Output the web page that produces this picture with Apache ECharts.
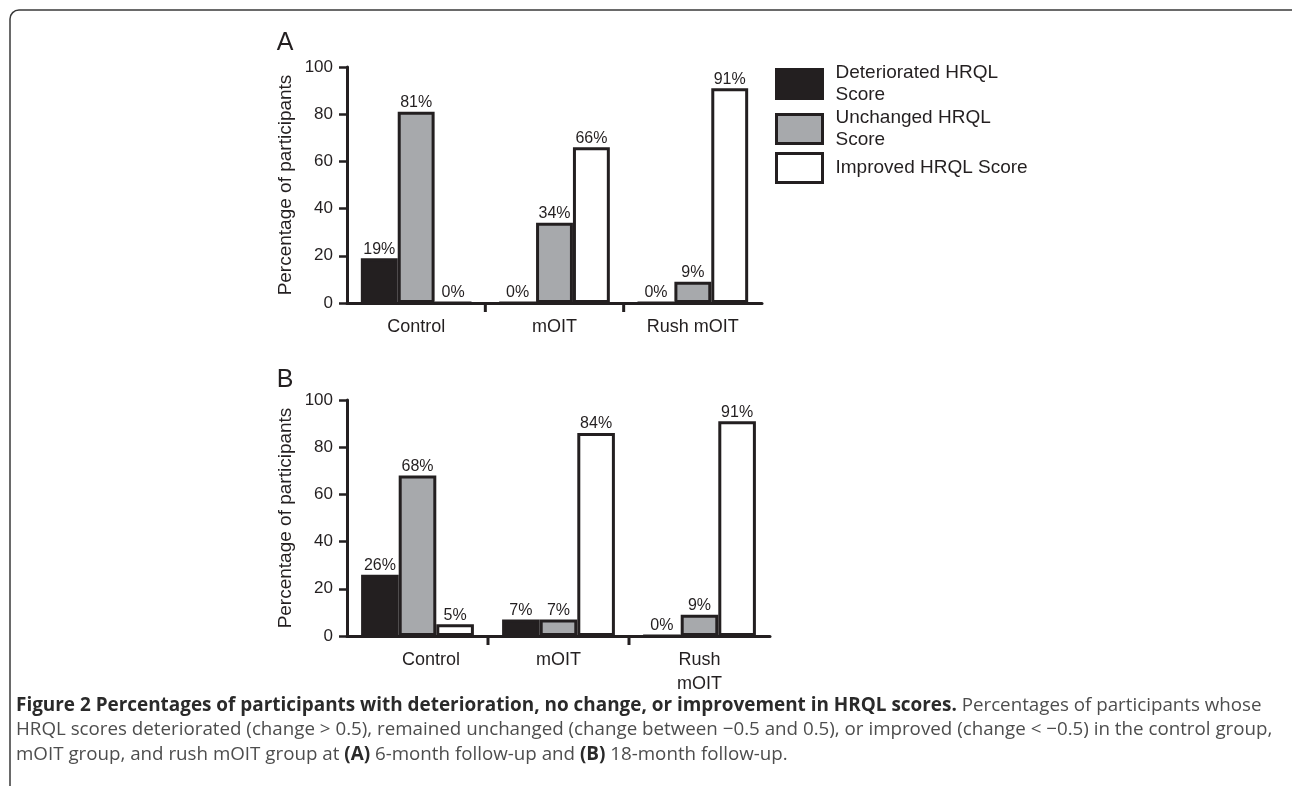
<!DOCTYPE html>
<html><head><meta charset="utf-8">
<script src="https://cdn.jsdelivr.net/npm/echarts@6/dist/echarts.min.js"></script>
<style>html,body{margin:0;padding:0;background:#fff}#c{width:1292px;height:786px}</style>
</head><body><div id="c"></div>
<script>
// ---- data ----
const categoriesA = ['Control', 'mOIT', 'Rush mOIT'];
const categoriesB = ['Control', 'mOIT', 'Rush\nmOIT'];
const seriesNames = ['Deteriorated HRQL Score', 'Unchanged HRQL Score', 'Improved HRQL Score'];
const legendText = ['Deteriorated HRQL\nScore', 'Unchanged HRQL\nScore', 'Improved HRQL Score'];
const deterioratedA = [19, 0, 0];
const unchangedA = [81, 34, 9];
const improvedA = [0, 66, 91];
const deterioratedB = [26, 7, 0];
const unchangedB = [68, 7, 9];
const improvedB = [5, 86, 91];           // bar heights as drawn
const improvedBPrinted = [5, 84, 91];    // percentages as printed above bars
const yTicks = [0, 20, 40, 60, 80, 100];

const INK = '#231f20';
const colors = ['#231f20', '#a7a9ac', '#ffffff'];
const FONT = '"Liberation Sans", Arial, Helvetica, sans-serif';

const chart = echarts.init(document.getElementById('c'), null, {renderer: 'canvas'});

function xAxis(grid, cats, rich) {
  return {
    type: 'category', gridIndex: grid, data: cats,
    axisLine: {lineStyle: {color: INK, width: 3}},
    axisTick: {show: false},
    axisLabel: {
      color: INK, fontSize: 18, fontFamily: FONT, margin: 12, lineHeight: 24,
      formatter: rich ? function (v) { return v === 'Control' ? '{s|' + v + '}' : v; } : null,
      rich: rich ? {s: {color: INK, fontSize: 18, fontFamily: FONT, lineHeight: 24, padding: [0, 0, 0, 27]}} : undefined
    }
  };
}
function yAxis(grid) {
  return {
    type: 'value', gridIndex: grid,
    min: yTicks[0], max: yTicks[yTicks.length - 1], interval: yTicks[1] - yTicks[0],
    name: 'Percentage of participants', nameLocation: 'middle', nameGap: 52,
    nameTextStyle: {color: INK, fontSize: 19, fontFamily: FONT},
    axisLine: {show: true, lineStyle: {color: INK, width: 3}},
    axisTick: {show: true, length: 8, lineStyle: {color: INK, width: 2.5}},
    axisLabel: {color: INK, fontSize: 17, fontFamily: FONT, margin: 14},
    splitLine: {show: false}
  };
}
function bar(i, xi, data, printed) {
  return {
    type: 'bar', name: seriesNames[i], xAxisIndex: xi, yAxisIndex: xi,
    data: data, barGap: '0%', barCategoryGap: '20%',
    itemStyle: {color: colors[i], borderColor: INK, borderWidth: 3},
    label: {
      show: true, position: 'top', distance: 1, color: INK, fontSize: 16, fontFamily: FONT,
      formatter: function (p) { return (printed ? printed[p.dataIndex] : p.value) + '%'; }
    },
    emphasis: {disabled: true}
  };
}

const option = {
  animation: false,
  backgroundColor: '#fff',
  grid: [
    {left: 347, top: 67, width: 415, height: 236, containLabel: false},
    {left: 347, top: 400, width: 423, height: 236, containLabel: false}
  ],
  xAxis: [xAxis(0, categoriesA, false), xAxis(1, categoriesB, true)],
  yAxis: [yAxis(0), yAxis(1)],
  legend: {
    orient: 'vertical', left: 775, top: 62, itemGap: 1, padding: 0,
    itemWidth: 46, itemHeight: 29, icon: 'rect',
    data: seriesNames,
    itemStyle: {borderColor: INK, borderWidth: 3},
    formatter: function (n) { return legendText[seriesNames.indexOf(n)]; },
    textStyle: {color: INK, fontSize: 19, fontFamily: FONT, lineHeight: 22, padding: [0, 0, 0, 8]},
    selectedMode: false
  },
  series: [
    bar(0, 0, deterioratedA), bar(1, 0, unchangedA), bar(2, 0, improvedA),
    bar(0, 1, deterioratedB), bar(1, 1, unchangedB), bar(2, 1, improvedB, improvedBPrinted)
  ]
};
chart.setOption(option);

// caption sizing by measurement (to match the reference line widths)
const capLine1b = 'Figure 2 Percentages of participants with deterioration, no change, or improvement in HRQL scores.';
const capLine1n = ' Percentages of participants whose';
const capLine2 = 'HRQL scores deteriorated (change > 0.5), remained unchanged (change between \u22120.5 and 0.5), or improved (change < \u22120.5) in the control group,';
const CAPFONT = '"Open Sans", "Noto Sans", sans-serif';
const ctx = document.createElement('canvas').getContext('2d');
ctx.font = '16px ' + CAPFONT;
const wN = ctx.measureText(capLine2).width;
ctx.font = 'bold 16px ' + CAPFONT;
const wB = ctx.measureText(capLine1b).width;
const capSizeN = 16 * 1257 / wN;
const capSizeB = 16 * 941 / wB;

function separators(xi, n) {
  const y0 = chart.convertToPixel({yAxisIndex: xi}, 0);
  const out = [];
  for (let i = 0; i < n - 1; i++) {
    const a = chart.convertToPixel({xAxisIndex: xi}, i);
    const b = chart.convertToPixel({xAxisIndex: xi}, i + 1);
    const bx = (a + b) / 2;
    out.push({type: 'line', shape: {x1: bx, y1: y0, x2: bx, y2: y0 + 9}, style: {stroke: INK, lineWidth: 3}, silent: true});
  }
  return out;
}

chart.setOption({
  graphic: [
    {type: 'rect', shape: {x: 10, y: 10, width: 1292, height: 820, r: 9}, style: {fill: null, stroke: '#3a3a3a', lineWidth: 1.5}, silent: true, z: -10},
    {type: 'text', style: {x: 285, y: 43, text: 'A', fill: INK, fontSize: 25, fontFamily: FONT, align: 'center', verticalAlign: 'middle'}},
    {type: 'text', style: {x: 285, y: 380, text: 'B', fill: INK, fontSize: 25, fontFamily: FONT, align: 'center', verticalAlign: 'middle'}},
    {type: 'text', style: {
      x: 16, y: 693,
      text: '{b|' + capLine1b + '}{n|' + capLine1n + '}\n{n|' + capLine2 + '}\n{n|mOIT group, and rush mOIT group at }{b|(A)}{n| 6-month follow-up and }{b|(B)}{n| 18-month follow-up.}',
      rich: {
        b: {fill: '#2a2a2a', fontWeight: 'bold', fontSize: capSizeB, fontFamily: CAPFONT, lineHeight: 24.5},
        n: {fill: '#4d4d4d', fontSize: capSizeN, fontFamily: CAPFONT, lineHeight: 24.5}
      }
    }}
  ].concat(separators(0, categoriesA.length), separators(1, categoriesB.length))
});
</script>
</body></html>
